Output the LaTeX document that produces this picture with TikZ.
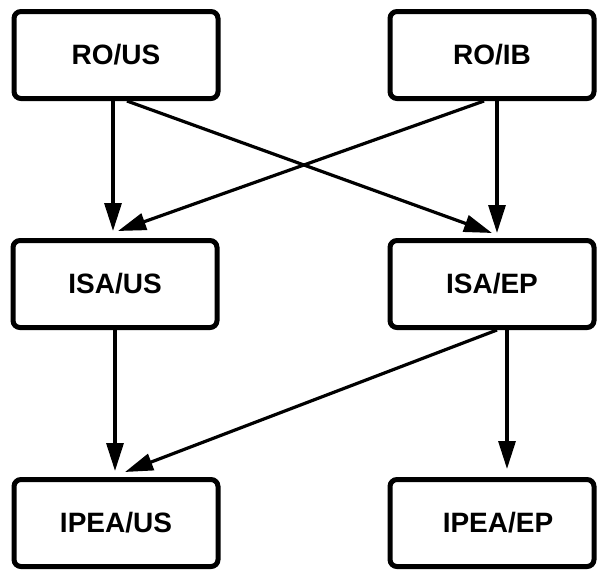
\documentclass[tikz,border=0pt]{standalone}
\usepackage{fontspec}
\setmainfont{Liberation Sans}
\usetikzlibrary{arrows.meta}
\begin{document}
\begin{tikzpicture}[x=1pt,y=-1pt,
  box/.style={draw=black,line width=5pt,rounded corners=7pt,minimum width=204pt,minimum height=87pt,inner sep=0pt,font=\fontsize{28}{30}\selectfont\bfseries},
  arr/.style={line width=3.2pt,-{Triangle[length=28pt,width=17pt]}}]
\useasboundingbox (0,0) rectangle (597,574);
\node[box] (rous) at (116,55) {\raisebox{-4pt}{RO/US}};
\node[box] (roib) at (492,55) {\raisebox{-4pt}{RO/IB}};
\node[box] (isaus) at (115,284) {ISA/US};
\node[box] (isaep) at (492,284) {ISA/EP};
\node[box] (ipeaus) at (116,523) {IPEA/US};
\node[box] (ipeaep) at (492,523) {\hspace*{12pt}IPEA/EP};
\draw[arr] ([xshift=-3pt]rous.south) -- ([xshift=-2pt,yshift=7pt]isaus.north);
\draw[arr] ([xshift=11pt]rous.south) -- ([xshift=0pt,yshift=5pt]isaep.north);
\draw[arr] ([xshift=5pt]roib.south) -- ([xshift=5pt,yshift=5pt]isaep.north);
\draw[arr] ([xshift=-8pt]roib.south) -- ([xshift=3pt,yshift=7pt]isaus.north);
\draw[arr] (isaus.south) -- ([xshift=-1pt,yshift=6pt]ipeaus.north);
\draw[arr] ([xshift=5pt]isaep.south) -- ([xshift=9pt,yshift=5pt]ipeaus.north);
\draw[arr] ([xshift=15pt]isaep.south) -- ([xshift=15pt,yshift=8pt]ipeaep.north);
\end{tikzpicture}
\end{document}
